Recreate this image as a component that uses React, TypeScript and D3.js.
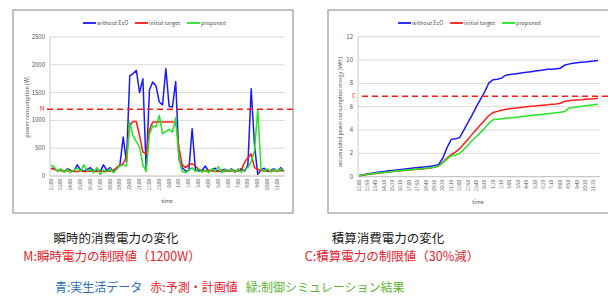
import React from "react";
import * as d3 from "d3";

// left chart: 20-minute samples, 12:00 .. 11:40 [W]
const powerBlue = [
  130, 140, 90, 110, 80, 130, 100, 90, 200, 110, 80, 120, 150, 90, 110, 80, 200, 100, 150, 80, 130, 200, 700, 250,
  1800, 1840, 1900, 1500, 1750, 120, 1550, 1690, 1620, 1330, 1280, 1930, 1250, 1240, 1700, 300, 150, 90, 100, 850,
  120, 90, 100, 180, 90, 110, 140, 80, 100, 120, 90, 130, 80, 100, 130, 90, 200, 1570, 560, 30, 110, 140, 80, 100,
  130, 80, 150, 90,
];
const powerRed = [
  140, 120, 100, 100, 90, 90, 100, 80, 80, 90, 80, 80, 90, 80, 80, 90, 80, 80, 90, 100, 150, 190, 220, 350, 900, 980,
  980, 720, 430, 400, 830, 970, 970, 970, 970, 970, 970, 970, 970, 500, 200, 150, 200, 220, 180, 120, 100, 90, 100,
  90, 80, 90, 80, 90, 80, 90, 100, 90, 100, 250, 330, 400, 150, 120, 100, 90, 90, 100, 90, 90, 100, 90,
];
const powerGreen = [
  200, 160, 80, 130, 70, 120, 60, 100, 140, 80, 200, 90, 120, 60, 150, 30, 110, 80, 130, 60, 120, 180, 200, 180, 970,
  720, 620, 520, 200, 80, 750, 900, 880, 1090, 760, 800, 840, 790, 1050, 300, 80, 60, 100, 150, 80, 130, 70, 110, 60,
  130, 80, 170, 60, 110, 80, 120, 60, 130, 70, 120, 150, 250, 450, 1200, 120, 80, 130, 70, 120, 80, 130, 90,
];
const hourLabels = [
  "12:00", "13:00", "14:00", "15:00", "16:00", "17:00", "18:00", "19:00", "20:00", "21:00", "22:00", "23:00",
  "0:00", "1:00", "2:00", "3:00", "4:00", "5:00", "6:00", "7:00", "8:00", "9:00", "10:00", "11:00",
];
const powerTicks = [0, 500, 1000, 1500, 2000, 2500];
const limitM = 1200;

// right chart: 25-minute samples [kWh]
const energyBlue = [
  0.1, 0.17, 0.24, 0.3, 0.35, 0.4, 0.45, 0.5, 0.54, 0.58, 0.62, 0.66, 0.7, 0.74, 0.78, 0.82, 0.86, 0.9, 0.95, 1.05,
  1.6, 2.5, 3.2, 3.25, 3.35, 4.0, 4.65, 5.3, 6.0, 6.65, 7.3, 8.05, 8.32, 8.36, 8.45, 8.7, 8.75, 8.8, 8.85, 8.9, 8.95,
  9.0, 9.05, 9.1, 9.15, 9.2, 9.22, 9.26, 9.3, 9.55, 9.65, 9.72, 9.76, 9.8, 9.84, 9.88, 9.92, 9.97,
];
const energyRed = [
  0.08, 0.13, 0.18, 0.23, 0.28, 0.32, 0.36, 0.4, 0.44, 0.48, 0.52, 0.55, 0.58, 0.61, 0.64, 0.67, 0.7, 0.74, 0.8, 0.92,
  1.25, 1.6, 1.9, 2.1, 2.4, 2.8, 3.2, 3.65, 4.05, 4.45, 4.85, 5.25, 5.5, 5.6, 5.7, 5.78, 5.83, 5.87, 5.91, 5.95, 5.99,
  6.03, 6.06, 6.1, 6.13, 6.16, 6.2, 6.24, 6.3, 6.45, 6.52, 6.55, 6.58, 6.6, 6.63, 6.66, 6.68, 6.72,
];
const energyGreen = [
  0.08, 0.14, 0.2, 0.25, 0.29, 0.33, 0.37, 0.41, 0.45, 0.49, 0.53, 0.56, 0.59, 0.62, 0.65, 0.68, 0.72, 0.76, 0.82,
  0.92, 1.2, 1.5, 1.8, 1.85, 2.0, 2.35, 2.7, 3.1, 3.45, 3.8, 4.15, 4.6, 4.88, 4.92, 4.96, 5.0, 5.04, 5.08, 5.12, 5.16,
  5.2, 5.24, 5.28, 5.32, 5.36, 5.4, 5.44, 5.48, 5.52, 5.58, 5.86, 5.92, 5.98, 6.03, 6.08, 6.12, 6.16, 6.2,
];
const energyLabels = [
  "12:00", "12:50", "13:40", "14:30", "15:20", "16:10", "17:00", "17:50", "18:40", "19:30", "20:20", "21:10", "22:00",
  "22:50", "23:40", "0:30", "1:20", "2:10", "3:00", "3:50", "4:40", "5:30", "6:20", "7:10", "8:00", "8:50", "9:40",
  "10:30", "11:20",
];
const energyTicks = [0, 2, 4, 6, 8, 10, 12];
const limitC = 6.9;

const legendNames = ["without EcO", "initial target", "proposed"];
const BLUE = "#1a1aff";
const RED = "#ff1a1a";
const GREEN = "#22e622";
const GRID = "#d9d9d9";
const TXT = "#555";

const xL = d3.scaleLinear().domain([0, 71]).range([51, 284]);
const yL = d3.scaleLinear().domain([0, 2500]).range([176, 37]);
const xR = d3.scaleLinear().domain([0, 57]).range([359, 598]);
const yR = d3.scaleLinear().domain([0, 12]).range([176.7, 36.7]);

const Legend = ({ x, gaps }: { x: number; gaps: number[] }) => {
  const cols = [BLUE, RED, GREEN];
  return (
    <g>
      {legendNames.map((n, i) => (
        <g key={n}>
          <line x1={x + gaps[i]} x2={x + gaps[i] + 13} y1={23} y2={23} stroke={cols[i]} strokeWidth={1.8} />
          <text x={x + gaps[i] + 14} y={25} fontSize={5.5} fill={TXT}>
            {n}
          </text>
        </g>
      ))}
    </g>
  );
};

export default function App() {
  const lineL = d3
    .line<number>()
    .x((_, i) => xL(i))
    .y((d) => yL(d));
  const lineR = d3
    .line<number>()
    .x((_, i) => xR(i))
    .y((d) => yR(d));
  const font = "'Noto Sans CJK JP', 'Noto Sans', sans-serif";

  return (
    <svg width={608} height={296} style={{ position: "absolute", left: 0, top: 0, background: "#fff" }} fontFamily={font}>
      {/* left panel */}
      <rect x={13} y={10} width={280} height={203} fill="#fff" stroke="#999" strokeWidth={1.2} />
      <Legend x={83} gaps={[0, 52, 104]} />
      {powerTicks.map((t) => (
        <g key={t}>
          <line x1={50} x2={285} y1={yL(t)} y2={yL(t)} stroke={t === 0 ? "#bbb" : GRID} />
          <text x={45} y={yL(t) + 2} fontSize={6} textAnchor="end" fill={TXT}>
            {t}
          </text>
        </g>
      ))}
      <line x1={50} x2={50} y1={37} y2={176} stroke="#ccc" />
      {hourLabels.map((l, i) => (
        <text
          key={l}
          transform={`translate(${xL(i * 3) + 1.5},179) rotate(-90)`}
          fontSize={4.5}
          textAnchor="end"
          fill={TXT}
        >
          {l}
        </text>
      ))}
      <text x={167} y={203} fontSize={5.5} textAnchor="middle" fill={TXT}>
        time
      </text>
      <text transform="translate(29,107) rotate(-90)" fontSize={5.5} textAnchor="middle" fill={TXT}>
        power consumption [W]
      </text>
      <path d={lineL(powerBlue) ?? ""} fill="none" stroke={BLUE} strokeWidth={1.5} strokeLinejoin="round" />
      <path d={lineL(powerRed) ?? ""} fill="none" stroke={RED} strokeWidth={1.5} strokeLinejoin="round" />
      <path d={lineL(powerGreen) ?? ""} fill="none" stroke={GREEN} strokeWidth={1.5} strokeLinejoin="round" />
      <line x1={47} x2={293} y1={yL(limitM)} y2={yL(limitM)} stroke={RED} strokeWidth={1.5} strokeDasharray="6,4" />
      <text x={42} y={yL(limitM) + 2} fontSize={6} textAnchor="middle" fill={RED}>
        M
      </text>

      {/* right panel */}
      <rect x={328} y={10} width={290} height={203} fill="#fff" stroke="#999" strokeWidth={1.2} />
      <Legend x={398} gaps={[0, 52, 104]} />
      {energyTicks.map((t) => (
        <g key={t}>
          <line x1={358} x2={600} y1={yR(t)} y2={yR(t)} stroke={t === 0 ? "#bbb" : GRID} />
          <text x={353} y={yR(t) + 2} fontSize={6} textAnchor="end" fill={TXT}>
            {t}
          </text>
        </g>
      ))}
      <line x1={358} x2={358} y1={36.7} y2={176.7} stroke="#ccc" />
      {energyLabels.map((l, i) => (
        <text
          key={l}
          transform={`translate(${xR(i * 2) + 1.5},180) rotate(-90)`}
          fontSize={4.5}
          textAnchor="end"
          fill={TXT}
        >
          {l}
        </text>
      ))}
      <text x={478} y={204} fontSize={5.5} textAnchor="middle" fill={TXT}>
        time
      </text>
      <text transform="translate(342,112) rotate(-90)" fontSize={5} textAnchor="middle" fill={TXT}>
        accumulated power consumption energy [kWh]
      </text>
      <path d={lineR(energyBlue) ?? ""} fill="none" stroke={BLUE} strokeWidth={1.5} />
      <path d={lineR(energyRed) ?? ""} fill="none" stroke={RED} strokeWidth={1.5} />
      <path d={lineR(energyGreen) ?? ""} fill="none" stroke={GREEN} strokeWidth={1.5} />
      <line x1={362} x2={608} y1={yR(limitC)} y2={yR(limitC)} stroke={RED} strokeWidth={1.5} strokeDasharray="6,4" />
      <text x={354} y={yR(limitC) + 2} fontSize={6} textAnchor="middle" fill={RED}>
        C
      </text>

      {/* captions */}
      <text x={116} y={243} fontSize={12.5} textAnchor="middle" fill="#1a1a1a">
        瞬時的消費電力の変化
      </text>
      <text x={112} y={261} fontSize={12.5} textAnchor="middle" fill="#e8202a">
        M:瞬時電力の制限値（1200W）
      </text>
      <text x={388} y={243} fontSize={12.5} textAnchor="middle" fill="#1a1a1a">
        積算消費電力の変化
      </text>
      <text x={392} y={261} fontSize={12.5} textAnchor="middle" fill="#e8202a">
        C:積算電力の制限値（30%減）
      </text>
      <text x={55} y={291.5} fontSize={12}>
        <tspan fill="#2e6fc0">青:実生活データ</tspan>
        <tspan fill="#e8202a" dx={8}>
          赤:予測・計画値
        </tspan>
        <tspan fill="#5cb531" dx={8}>
          緑:制御シミュレーション結果
        </tspan>
      </text>
    </svg>
  );
}
